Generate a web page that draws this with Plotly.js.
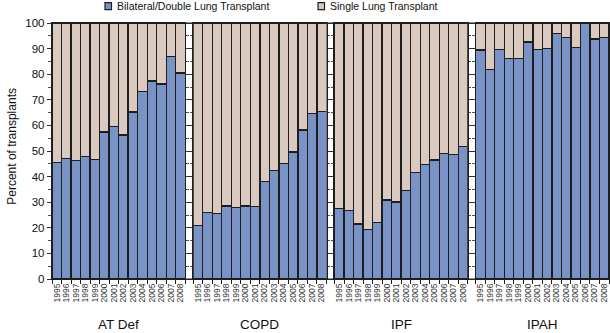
<!DOCTYPE html>
<html>
<head>
<meta charset="utf-8">
<script src="https://cdn.plot.ly/plotly-3.0.1.min.js"></script>
<style>html,body{margin:0;padding:0;background:#fff;}#chart{width:610px;height:333px;}</style>
</head>
<body>
<div id="chart"></div>
<script>
var years = ['1995','1996','1997','1998','1999','2000','2001','2002','2003','2004','2005','2006','2007','2008'];
var groups = ['AT Def','COPD','IPF','IPAH'];
var seriesNames = ['Bilateral/Double Lung Transplant','Single Lung Transplant'];

var bilateralATDef = [45.5, 47.1, 46.2, 47.8, 46.6, 57.4, 59.7, 56.3, 65.2, 73.2, 77.4, 76.2, 87.0, 80.5];
var bilateralCOPD  = [21.0, 25.9, 25.5, 28.5, 27.8, 28.5, 28.3, 38.0, 42.4, 45.0, 49.6, 58.2, 64.6, 65.4];
var bilateralIPF   = [27.5, 26.7, 21.5, 19.3, 22.1, 30.9, 30.1, 34.5, 41.5, 44.6, 46.5, 49.0, 48.5, 51.7];
var bilateralIPAH  = [89.4, 81.9, 89.7, 86.2, 86.0, 92.6, 89.7, 90.0, 95.8, 94.4, 90.3, 100.0, 93.8, 94.4];

var singleATDef = [54.5, 52.9, 53.8, 52.2, 53.4, 42.6, 40.3, 43.7, 34.8, 26.8, 22.6, 23.8, 13.0, 19.5];
var singleCOPD  = [79.0, 74.1, 74.5, 71.5, 72.2, 71.5, 71.7, 62.0, 57.6, 55.0, 50.4, 41.8, 35.4, 34.6];
var singleIPF   = [72.5, 73.3, 78.5, 80.7, 77.9, 69.1, 69.9, 65.5, 58.5, 55.4, 53.5, 51.0, 51.5, 48.3];
var singleIPAH  = [10.6, 18.1, 10.3, 13.8, 14.0, 7.4, 10.3, 10.0, 4.2, 5.6, 9.7, 0.0, 6.2, 5.6];

var bilateral = [bilateralATDef, bilateralCOPD, bilateralIPF, bilateralIPAH];
var single = [singleATDef, singleCOPD, singleIPF, singleIPAH];

var blue = '#7a93c6', beige = '#d9c9bf', outline = '#1e1e1e';
var FONT = 'Liberation Sans, Arial, sans-serif';

var traces = [];
var layout = {
  width: 610, height: 333,
  margin: {l: 52, r: 1, t: 23, b: 53.5},
  paper_bgcolor: '#fff', plot_bgcolor: '#fff',
  barmode: 'stack', bargap: 0,
  showlegend: false,
  font: {family: FONT, color: '#111'},
  shapes: [], annotations: []
};

var W = 557, gapPx = 8, panelPx = (W - 3 * gapPx) / 4;
for (var i = 0; i < 4; i++) {
  var sfx = i === 0 ? '' : String(i + 1);
  var xa = 'x' + sfx, ya = 'y' + sfx;
  traces.push({type: 'bar', x: years, y: bilateral[i], name: seriesNames[0], xaxis: xa, yaxis: ya,
    marker: {color: blue, line: {color: outline, width: 1.3}}, hoverinfo: 'x+y'});
  traces.push({type: 'bar', x: years, y: single[i], name: seriesNames[1], xaxis: xa, yaxis: ya,
    marker: {color: beige, line: {color: outline, width: 1.3}}, hoverinfo: 'x+y'});
  var d0 = (i * (panelPx + gapPx)) / W, d1 = (i * (panelPx + gapPx) + panelPx) / W;
  layout['xaxis' + sfx] = {
    domain: [d0, d1], anchor: ya, type: 'category',
    tickmode: 'linear', tick0: 0, dtick: 1,
    showline: true, linecolor: outline, linewidth: 1.2, mirror: true,
    ticks: 'outside', tickson: 'boundaries', ticklen: 4, tickcolor: outline, tickwidth: 1,
    tickangle: -90, tickfont: {size: 8.5, color: '#333', family: FONT},
    showgrid: false, zeroline: false, fixedrange: true
  };
  layout['yaxis' + sfx] = {
    domain: [0, 1], anchor: xa, range: [0, 100],
    showline: true, linecolor: outline, linewidth: 1.2, mirror: 'allticks',
    ticks: 'outside', ticklen: 4, tickcolor: '#333', tickwidth: 1, dtick: 10, tick0: 0,
    minor: {ticks: 'outside', ticklen: 2.5, dtick: 5, tickcolor: '#555'},
    showticklabels: i === 0, tickfont: {size: 11.5, color: '#111', family: FONT},
    showgrid: false, zeroline: false, fixedrange: true
  };
  layout.annotations.push({
    text: groups[i], xref: 'paper', yref: 'paper', x: (d0 + d1) / 2, y: -0.177,
    xanchor: 'center', yanchor: 'middle', showarrow: false,
    font: {size: 13.5, color: '#111', family: FONT}
  });
}

// continuous frame lines across gaps
layout.shapes.push({type: 'line', xref: 'paper', yref: 'paper', x0: 0, x1: 1, y0: 0, y1: 0, line: {color: outline, width: 1.2}});
layout.shapes.push({type: 'line', xref: 'paper', yref: 'paper', x0: 0, x1: 1, y0: 1, y1: 1, line: {color: outline, width: 1.2}});

// custom legend
function px2x(px) { return (px - 52) / W; }
function py2y(py) { return (279.5 - py) / 256.5; }
var legendItems = [{px: 105, color: blue, name: seriesNames[0]}, {px: 318, color: beige, name: seriesNames[1]}];
legendItems.forEach(function (it) {
  layout.shapes.push({type: 'rect', xref: 'paper', yref: 'paper',
    x0: px2x(it.px), x1: px2x(it.px + 6.5), y0: py2y(9.5), y1: py2y(2.5),
    fillcolor: it.color, line: {color: outline, width: 1.2}});
  layout.annotations.push({text: it.name, xref: 'paper', yref: 'paper',
    x: px2x(it.px + 9.5), y: py2y(6), xanchor: 'left', yanchor: 'middle', showarrow: false,
    font: {size: 10.5, color: '#111', family: FONT}});
});

layout.annotations.push({text: 'Percent of transplants', xref: 'paper', yref: 'paper',
  x: px2x(12), y: py2y(147), xanchor: 'center', yanchor: 'middle', textangle: -90, showarrow: false,
  font: {size: 12, color: '#111', family: FONT}});

Plotly.newPlot('chart', traces, layout, {displayModeBar: false, staticPlot: true});
</script>
</body>
</html>
